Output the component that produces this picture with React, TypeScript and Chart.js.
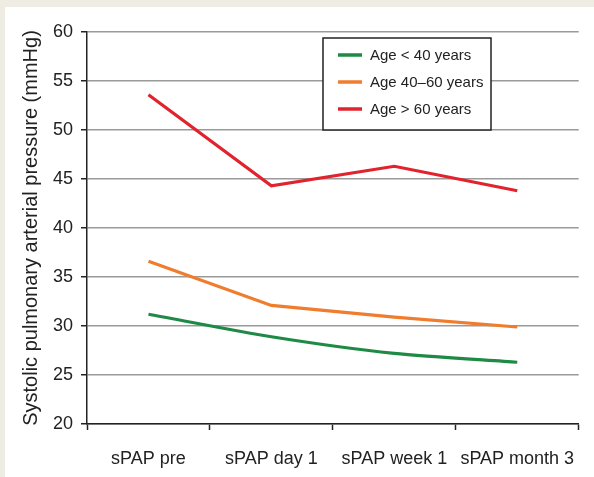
import React, { useEffect, useRef } from "react";
import { Chart, registerables } from "chart.js";

Chart.register(...registerables);

const categories = ["sPAP pre", "sPAP day 1", "sPAP week 1", "sPAP month 3"];
const seriesLabels = ["Age < 40 years", "Age 40\u201360 years", "Age > 60 years"];
const youngValues = [31.2, 28.9, 27.2, 26.3];
const middleValues = [36.6, 32.1, 30.9, 29.9];
const oldValues = [53.6, 44.3, 46.3, 43.8];
const yTicks = [20, 25, 30, 35, 40, 45, 50, 55, 60];

const COLORS = ["#1e8a46", "#ef7d2d", "#e0232d"];
const FONT = "'Liberation Sans', Arial, Helvetica, sans-serif";

const backgroundPlugin = {
  id: "panelBg",
  beforeDraw(chart: any) {
    const { ctx, width, height } = chart;
    ctx.save();
    ctx.fillStyle = "#efece3";
    ctx.fillRect(0, 0, width, height);
    ctx.fillStyle = "#ffffff";
    ctx.fillRect(5, 7, width - 5, height - 7);
    ctx.restore();
  },
};

const boxLegendPlugin = {
  id: "boxLegend",
  afterDraw(chart: any) {
    const { ctx } = chart;
    const x0 = 323, y0 = 38, w = 168, h = 92;
    ctx.save();
    ctx.fillStyle = "#ffffff";
    ctx.fillRect(x0, y0, w, h);
    ctx.strokeStyle = "#222222";
    ctx.lineWidth = 1.5;
    ctx.strokeRect(x0, y0, w, h);
    ctx.font = `15px ${FONT}`;
    ctx.textBaseline = "middle";
    ctx.textAlign = "left";
    chart.data.datasets.forEach((ds: any, i: number) => {
      const y = 55 + i * 27;
      ctx.strokeStyle = ds.borderColor;
      ctx.lineWidth = 3.5;
      ctx.beginPath();
      ctx.moveTo(338, y);
      ctx.lineTo(362, y);
      ctx.stroke();
      ctx.fillStyle = "#222222";
      ctx.fillText(ds.label, 370, y + 1);
    });
    ctx.restore();
  },
};

export default function App() {
  const canvasRef = useRef<HTMLCanvasElement | null>(null);

  useEffect(() => {
    if (!canvasRef.current) return;
    const seriesData = [youngValues, middleValues, oldValues];
    const chart = new Chart(canvasRef.current, {
      type: "line",
      data: {
        labels: categories,
        datasets: seriesData.map((d, i) => ({
          label: seriesLabels[i],
          data: d,
          borderColor: COLORS[i],
          backgroundColor: COLORS[i],
          borderWidth: 3.2,
          pointRadius: 0,
          pointHoverRadius: 0,
          tension: i === 0 ? 0.25 : 0,
          fill: false,
        })),
      },
      options: {
        animation: false,
        responsive: false,
        devicePixelRatio: 1,
        layout: { padding: { top: 32, right: 15, left: 0, bottom: 0 } },
        plugins: {
          legend: { display: false },
          tooltip: { enabled: false },
        },
        scales: {
          x: {
            type: "category",
            offset: true,
            grid: {
              offset: true,
              drawOnChartArea: false,
              drawTicks: true,
              tickLength: 6,
              tickColor: "#222222",
              tickWidth: 1.5,
            },
            border: { display: true, color: "#222222", width: 1.5, z: 1 },
            ticks: {
              color: "#222222",
              font: { family: FONT, size: 18 },
              padding: 18,
              maxRotation: 0,
              autoSkip: false,
            },
            afterFit(scale: any) {
              scale.height = 53;
            },
          },
          y: {
            type: "linear",
            min: 20,
            max: 60,
            afterBuildTicks(scale: any) {
              scale.ticks = yTicks.map((v) => ({ value: v }));
            },
            grid: {
              color: "#9a9a9a",
              lineWidth: 1.5,
              drawTicks: true,
              tickLength: 6,
              tickColor: "#222222",
              tickWidth: 1.5,
            },
            border: { display: true, color: "#222222", width: 1.5, z: 1 },
            ticks: {
              color: "#222222",
              font: { family: FONT, size: 18 },
              padding: 8,
            },
            title: {
              display: true,
              text: "Systolic pulmonary arterial pressure (mmHg)",
              color: "#222222",
              font: { family: FONT, size: 20, lineHeight: 1 },
              padding: { top: 21, bottom: 0 },
            },
            afterFit(scale: any) {
              scale.width = 87;
            },
          },
        },
      },
      plugins: [backgroundPlugin, boxLegendPlugin],
    });
    return () => chart.destroy();
  }, []);

  return (
    <div style={{ position: "absolute", left: 0, top: 0, width: 594, height: 477 }}>
      <canvas ref={canvasRef} width={594} height={477} style={{ display: "block" }} />
    </div>
  );
}
